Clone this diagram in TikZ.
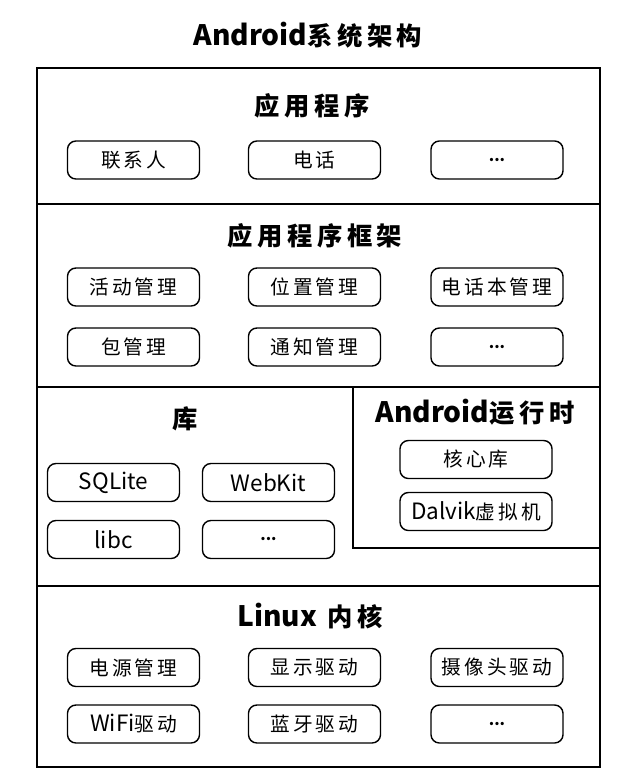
\documentclass[tikz,border=0pt]{standalone}
\usepackage{fontspec}
\setmainfont{Noto Sans CJK SC}
\newfontfamily\headfont[LetterSpace=18]{Noto Sans CJK SC}
\newfontfamily\itemfont[LetterSpace=15]{Noto Sans CJK SC}
\newfontfamily\latinfont{Noto Sans CJK SC}
\usetikzlibrary{positioning}

% latin words without the wide CJK spacing
\newcommand\headlat[1]{{\latinfont\bfseries\fontsize{20}{24}\selectfont #1}}
\newcommand\itemlat[1]{{\latinfont\fontsize{16}{18}\selectfont #1}}
\newcommand\more{{\latinfont\bfseries\fontsize{11}{12}\selectfont ...}}

\tikzset{
  layer/.style={line width=1.4pt},
  headtext/.style={font=\headfont\fontsize{18}{20}\selectfont\bfseries},
  itembox/.style={draw,line width=1pt,rounded corners=6pt,minimum width=3.3cm,
    minimum height=0.95cm,inner sep=0pt,font=\itemfont\fontsize{14}{16}\selectfont},
  rtbox/.style={itembox,minimum width=3.8cm}
}

\begin{document}
\begin{tikzpicture}[x=0.025cm,y=-0.025cm]
\useasboundingbox (0,0) rectangle (640,776);
\node[headtext] (title) at (308,35) {\headlat{Android}系统架构};
\draw[layer] (37,68) rectangle (600,767);
\draw[layer] (37,204)--(600,204);
\draw[layer] (37,387)--(600,387);
\draw[layer] (37,586)--(600,586);
\draw[layer] (353,387) rectangle (600,548);
% applications
\node[headtext] (apps) at (312,106) {应用程序};
\node[itembox] (contacts) at (133.5,160) {联系人};
\node[itembox] (phone) at (314.5,160) {电话};
\node[itembox] (appmore) at (497,160) {\more};
% application framework
\node[headtext] (frame) at (315,236) {应用程序框架};
\node[itembox] (activity) at (133.5,287) {活动管理};
\node[itembox] (location) at (314.5,287) {位置管理};
\node[itembox] (phonebook) at (497,287) {电话本管理};
\node[itembox] (package) at (133.5,347) {包管理};
\node[itembox] (notify) at (314.5,347) {通知管理};
\node[itembox] (framemore) at (497,347) {\more};
% libraries
\node[headtext] (libs) at (185,419) {库};
\node[itembox] (sqlite) at (113.5,482.5) {\itemlat{SQLite}};
\node[itembox] (webkit) at (268.5,482.5) {\itemlat{WebKit}};
\node[itembox] (libc) at (113.5,539.5) {\itemlat{libc}};
\node[itembox] (libmore) at (268.5,539.5) {\more};
% runtime
\node[headtext] (runtime) at (475,412) {\headlat{Android}运行时};
\node[rtbox] (corelib) at (476,459.5) {核心库};
\node[rtbox] (dalvik) at (476,511.5) {\itemlat{Dalvik}虚拟机};
% kernel
\node[headtext] (kernel) at (310,616) {\headlat{Linux} 内核};
\node[itembox] (power) at (133.5,667.5) {电源管理};
\node[itembox] (display) at (314.5,667.5) {显示驱动};
\node[itembox] (camera) at (497,667.5) {摄像头驱动};
\node[itembox] (wifi) at (133.5,724) {\itemlat{WiFi}驱动};
\node[itembox] (bluetooth) at (314.5,724) {蓝牙驱动};
\node[itembox] (kernelmore) at (497,724) {\more};
\end{tikzpicture}
\end{document}
